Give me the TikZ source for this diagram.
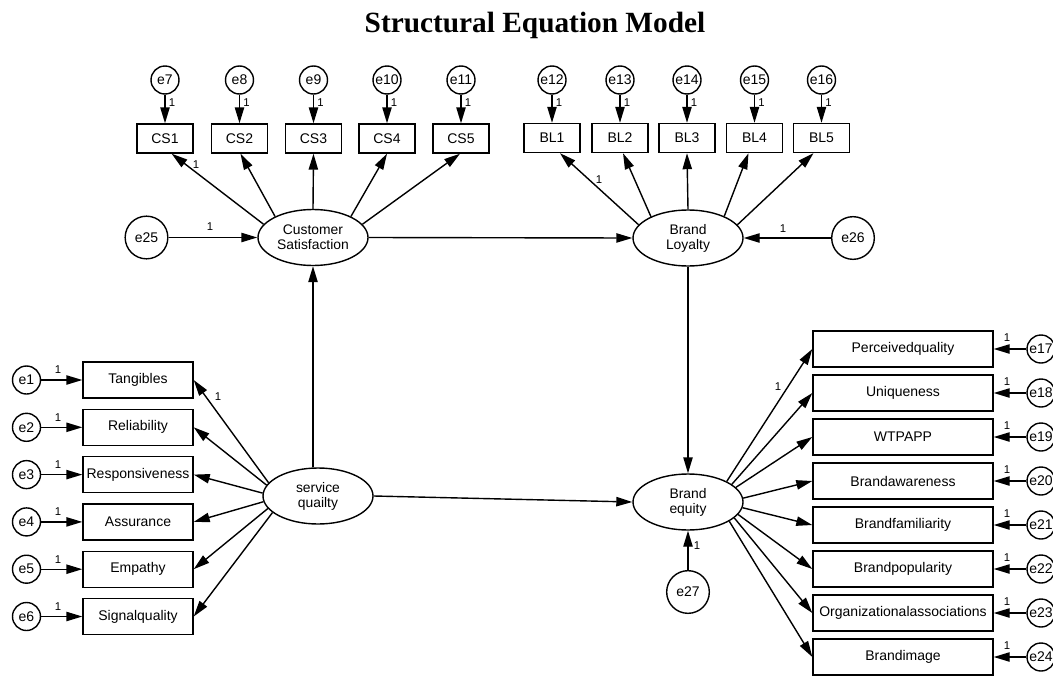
\documentclass[tikz,border=0pt]{standalone}
\usepackage{fontspec}
\setmainfont{Liberation Sans}
\newfontfamily\titlefont{Liberation Serif}
\usetikzlibrary{arrows.meta,shapes.geometric}
\begin{document}
\begin{tikzpicture}[x=0.75pt,y=-0.75pt,
  line width=1.05pt,
  arr/.style={-{Triangle[length=12pt,width=7pt]}},
  obs/.style={draw, rectangle, inner sep=0pt, font=\fontsize{10.5}{12}\selectfont},
  csbox/.style={obs, minimum width=42pt, minimum height=21.75pt},
  lbox/.style={obs, minimum width=82.5pt, minimum height=27pt},
  rbox/.style={obs, minimum width=135pt, minimum height=27pt},
  lat/.style={draw, ellipse, inner sep=0pt, minimum width=82.5pt, minimum height=42pt, align=center, font=\fontsize{10.4}{11.25}\selectfont},
  err/.style={draw, circle, inner sep=0pt, minimum size=21pt, font=\fontsize{10.5}{12}\selectfont},
  bigerr/.style={draw, circle, inner sep=0pt, minimum size=32pt, font=\fontsize{10.5}{12}\selectfont},
  one/.style={font=\fontsize{8.5}{10}\selectfont, inner sep=0pt},
]
\useasboundingbox (0,0) rectangle (1053,675);
\node[font=\titlefont\bfseries\fontsize{22}{26}\selectfont] (title) at (535,25) {Structural Equation Model};

% latent variables
\node[lat] (CS) at (313,237.5) {Customer\\Satisfaction};
\node[lat] (BL) at (688,238) {Brand\\Loyalty};
\node[lat] (SQ) at (318,496) {service\\quailty};
\node[lat] (BE) at (688,502) {Brand\\equity};

% structural errors
\node[bigerr] (e25) at (146.5,237.5) {e25};
\node[bigerr] (e26) at (853,238) {e26};
\node[bigerr] (e27) at (688,592) {e27};

% CS indicators
\foreach \i/\x/\e in {1/165/7,2/239.5/8,3/313.5/9,4/387/10,5/461/11}{
  \node[csbox] (C\i) at (\x,138.5) {CS\i};
  \node[err] (e\e) at (\x,80) {e\e};
  \draw[arr] (e\e) -- (C\i);
  \node[one] (l\e) at (\x+7,103) {1};
}
% BL indicators
\foreach \i/\x/\e in {1/552/12,2/620/13,3/687/14,4/754.5/15,5/821.5/16}{
  \node[csbox] (B\i) at (\x,138) {BL\i};
  \node[err] (e\e) at (\x,80) {e\e};
  \draw[arr] (e\e) -- (B\i);
  \node[one] (l\e) at (\x+7,103) {1};
}

% left indicators
\foreach \i/\y/\t in {1/380/Tangibles,2/427.3/Reliability,3/474.6/Responsiveness,4/521.9/Assurance,5/569.2/Empathy,6/616.5/Signalquality}{
  \node[lbox] (S\i) at (138,\y) {\t};
  \node[err] (e\i) at (26.5,\y) {e\i};
  \draw[arr] (e\i) -- (S\i);
  \node[one] (l\i) at (58,\y-10) {1};
}

% right indicators
\foreach \i/\y/\t/\e in {1/349/Perceivedquality/17,2/393/Uniqueness/18,3/437/WTPAPP/19,4/481/Brandawareness/20,5/525/Brandfamiliarity/21,6/569/Brandpopularity/22,7/613/Organizationalassociations/23,8/657/Brandimage/24}{
  \node[rbox] (R\i) at (903,\y) {\t};
  \node[err] (e\e) at (1041,\y) {e\e};
  \draw[arr] (e\e) -- (R\i);
  \node[one] (l\e) at (1007,\y-11) {1};
}

% loadings CS
\draw[arr] (CS.165) -- ([xshift=5pt]C1.south);
\draw[arr] (CS.151) -- ([xshift=0.75pt]C2.south);
\draw[arr] (CS.90) -- (C3.south);
\draw[arr] (CS.29) -- (C4.south);
\draw[arr] (CS.15) -- ([xshift=-0.75pt]C5.south);
\node[one] (lcs) at (196,165) {1};

% loadings BL
\draw[arr] (BL.165) -- ([xshift=6pt]B1.south);
\draw[arr] (BL.150) -- ([xshift=2.25pt]B2.south);
\draw[arr] (BL.90) -- (B3.south);
\draw[arr] (BL.31) -- ([xshift=-4.5pt]B4.south);
\draw[arr] (BL.15) -- ([xshift=-6pt]B5.south);
\node[one] (lbl) at (599,180) {1};

% loadings SQ
\draw[arr] (SQ.165) -- (S1.east);
\draw[arr] (SQ.168) -- (S2.east);
\draw[arr] (SQ.177) -- (S3.east);
\draw[arr] (SQ.186) -- (S4.east);
\draw[arr] (SQ.194) -- (S5.east);
\draw[arr] (SQ.200) -- (S6.east);
\node[one] (lsq) at (218,397) {1};

% loadings BE
\draw[arr] (BE.28) -- (R1.west);
\draw[arr] (BE.22) -- (R2.west);
\draw[arr] (BE.17) -- (R3.west);
\draw[arr] (BE.4) -- (R4.west);
\draw[arr] (BE.-6) -- (R5.west);
\draw[arr] (BE.-14) -- (R6.west);
\draw[arr] (BE.-19) -- (R7.west);
\draw[arr] (BE.-25) -- (R8.west);
\node[one] (lbe) at (778,387) {1};

% structural paths
\draw[arr] (e25) -- (CS);
\node[one] (l25) at (210,227) {1};
\draw[arr] (e26) -- (BL);
\node[one] (l26) at (783,229) {1};
\draw[arr] (e27) -- (BE);
\node[one] (l27) at (697,546) {1};
\draw[arr] (CS.east) -- (BL.west);
\draw[arr] (BL.south) -- (BE.north);
\draw[arr] (SQ.east) -- (BE.west);
\draw[arr] (SQ.north -| CS.south) -- (CS.south);
\end{tikzpicture}
\end{document}
